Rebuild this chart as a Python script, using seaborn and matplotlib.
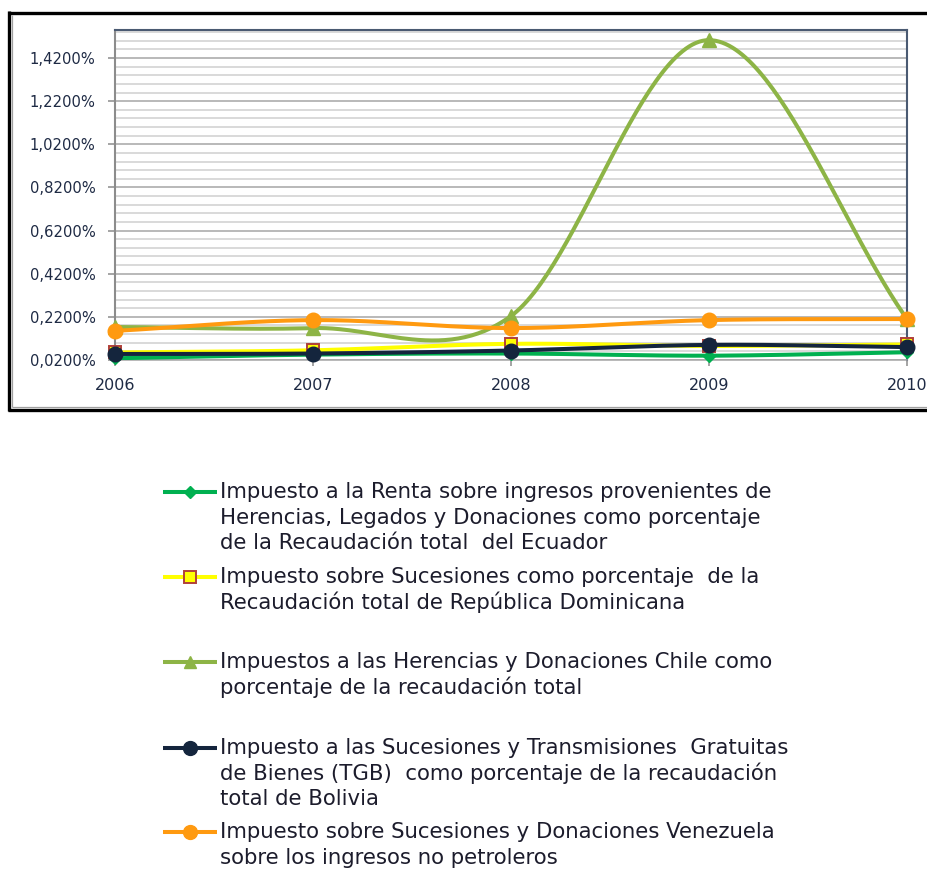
import numpy as np
import pandas as pd
import matplotlib
matplotlib.use("Agg")
import matplotlib.pyplot as plt
from matplotlib.lines import Line2D
from matplotlib.ticker import FixedLocator, FuncFormatter
import seaborn as sns

# ---- data (percent of total tax collection) ----
years = [2006, 2007, 2008, 2009, 2010]
ecuador = [0.028, 0.045, 0.050, 0.040, 0.056]
rep_dominicana = [0.055, 0.065, 0.095, 0.085, 0.092]
chile = [0.173, 0.168, 0.224, 1.503, 0.210]
bolivia = [0.048, 0.050, 0.064, 0.090, 0.080]
venezuela = [0.155, 0.205, 0.168, 0.205, 0.210]

labels = [
    "Impuesto a la Renta sobre ingresos provenientes de\n"
    "Herencias, Legados y Donaciones como porcentaje\n"
    "de la Recaudación total  del Ecuador",
    "Impuesto sobre Sucesiones como porcentaje  de la\n"
    "Recaudación total de República Dominicana",
    "Impuestos a las Herencias y Donaciones Chile como\n"
    "porcentaje de la recaudación total",
    "Impuesto a las Sucesiones y Transmisiones  Gratuitas\n"
    "de Bienes (TGB)  como porcentaje de la recaudación\n"
    "total de Bolivia",
    "Impuesto sobre Sucesiones y Donaciones Venezuela\n"
    "sobre los ingresos no petroleros",
]
y_ticks = [0.02, 0.22, 0.42, 0.62, 0.82, 1.02, 1.22, 1.42]

series = [ecuador, rep_dominicana, chile, bolivia, venezuela]
styles = [
    dict(color="#00B050", marker="D", ms=6.5, mfc="#00B050", mec="#00B050", mew=1.0),
    dict(color="#FFFF00", marker="s", ms=8.5, mfc="#FFFF00", mec="#B0403A", mew=1.4),
    dict(color="#8DB446", marker="^", ms=9.5, mfc="#8DB446", mec="#8DB446", mew=1.0),
    dict(color="#14253D", marker="o", ms=10.5, mfc="#14253D", mec="#14253D", mew=1.0),
    dict(color="#FF9A10", marker="o", ms=10.5, mfc="#FF9A10", mec="#FF9A10", mew=1.0),
]


def smooth(xs, ys, n=60):
    """Cubic Hermite (Catmull-Rom style) curve through the points, like a smoothed line."""
    xs = np.asarray(xs, float)
    ys = np.asarray(ys, float)
    k = len(xs)
    m = np.zeros(k)
    for i in range(k):
        if i == 0:
            m[i] = (ys[1] - ys[0]) / (xs[1] - xs[0])
        elif i == k - 1:
            m[i] = (ys[-1] - ys[-2]) / (xs[-1] - xs[-2])
        else:
            m[i] = (ys[i + 1] - ys[i - 1]) / (xs[i + 1] - xs[i - 1])
    out_x, out_y = [], []
    for i in range(k - 1):
        h = xs[i + 1] - xs[i]
        t = np.linspace(0, 1, n, endpoint=(i == k - 2))
        h00 = 2 * t**3 - 3 * t**2 + 1
        h10 = t**3 - 2 * t**2 + t
        h01 = -2 * t**3 + 3 * t**2
        h11 = t**3 - t**2
        out_x.append(xs[i] + t * h)
        out_y.append(h00 * ys[i] + h10 * h * m[i] + h01 * ys[i + 1] + h11 * h * m[i + 1])
    return np.concatenate(out_x), np.concatenate(out_y)


W, H = 928, 869
fig = plt.figure(figsize=(W / 100, H / 100), dpi=100)
fig.patch.set_facecolor("white")


def fx(px):
    return px / W


def fy(py):
    return 1 - py / H


ax = fig.add_axes([fx(115), fy(360), fx(907) - fx(115), fy(30) - fy(360)])
ax.set_facecolor("white")

# horizontal grid: minor every 0.04 %, major every 0.2 %
for v in np.arange(0.02, 1.5501, 0.04):
    major = any(abs(v - t) < 1e-6 for t in y_ticks)
    ax.axhline(v, color="#A6A6A6" if major else "#CFCFCF", lw=1.1, zorder=0.5)

for vals, st in zip(series, styles):
    sx, sy = smooth(years, vals)
    sns.lineplot(x=sx, y=sy, ax=ax, color=st["color"], lw=2.9, sort=False,
                 estimator=None, legend=False, zorder=3)
    ax.plot(years, vals, linestyle="none", marker=st["marker"], ms=st["ms"],
            mfc=st["mfc"], mec=st["mec"], mew=st["mew"], zorder=4, clip_on=False)

ax.set_xlim(2006, 2010)
ax.set_ylim(0.02, 1.55)
ax.xaxis.set_major_locator(FixedLocator(years))
ax.xaxis.set_major_formatter(FuncFormatter(lambda v, p: f"{int(round(v))}"))
ax.yaxis.set_major_locator(FixedLocator(y_ticks))
ax.yaxis.set_major_formatter(FuncFormatter(lambda v, p: f"{v:.4f}".replace(".", ",") + "%"))
ax.set_xlabel("")
ax.set_ylabel("")

tick_color = "#1E2A44"
ax.tick_params(axis="y", direction="out", length=5, width=1.1, color="#8C8C8C",
               pad=9, labelsize=10.6, labelcolor=tick_color)
ax.tick_params(axis="x", direction="out", length=4, width=1.1, color="#8C8C8C",
               pad=9, labelsize=11.5, labelcolor=tick_color)
for lab in ax.get_xticklabels() + ax.get_yticklabels():
    lab.set_fontfamily("DejaVu Sans")

ax.spines["left"].set_color("#8C8C8C")
ax.spines["left"].set_linewidth(1.5)
ax.spines["bottom"].set_color("#A6A6A6")
ax.spines["bottom"].set_linewidth(1.1)
for s in ("top", "right"):
    ax.spines[s].set_color("#4A5A72")
    ax.spines[s].set_linewidth(1.5)


def frame_line(xs, ys, color, lw):
    fig.add_artist(Line2D([fx(v) for v in xs], [fy(v) for v in ys], color=color, lw=lw,
                          solid_capstyle="butt", transform=fig.transFigure))


# chart frame: heavy black outline with a thin grey inner rule
frame_line([9, 9], [11, 411.5], "black", 2.4)
frame_line([7.5, 930], [12.5, 12.5], "black", 2.4)
frame_line([7.5, 930], [410, 410], "black", 2.4)
frame_line([12.5, 12.5], [15, 407], "#A0A0A0", 0.9)
frame_line([12.5, 930], [406.5, 406.5], "#A0A0A0", 0.9)

# legend text size: first line spans from x=220 to about x=775
legend_font = "DejaVu Sans"
renderer = fig.canvas.get_renderer()
probe = fig.text(0, 0, labels[0].split("\n")[0], fontsize=10, family=legend_font)
probe_w = probe.get_window_extent(renderer=renderer).width
probe.remove()
legend_size = 10 * (775 - 220) / probe_w

# legend below the chart
entry_top = [492, 577, 662, 748, 832]
line_pitch = 25.5
for lab, st, y0 in zip(labels, styles, entry_top):
    fig.add_artist(Line2D([fx(163), fx(217)], [fy(y0), fy(y0)], color=st["color"], lw=2.9,
                          solid_capstyle="butt", transform=fig.transFigure))
    fig.add_artist(Line2D([fx(190)], [fy(y0)], linestyle="none", marker=st["marker"],
                          ms=st["ms"] * 0.95, mfc=st["mfc"], mec=st["mec"], mew=st["mew"],
                          transform=fig.transFigure))
    for i, line in enumerate(lab.split("\n")):
        fig.text(fx(220), fy(y0 + i * line_pitch), line, ha="left", va="center",
                 fontsize=legend_size, family=legend_font, color="#1C1C2C")

fig.savefig("out.png", dpi=100, facecolor="white")
